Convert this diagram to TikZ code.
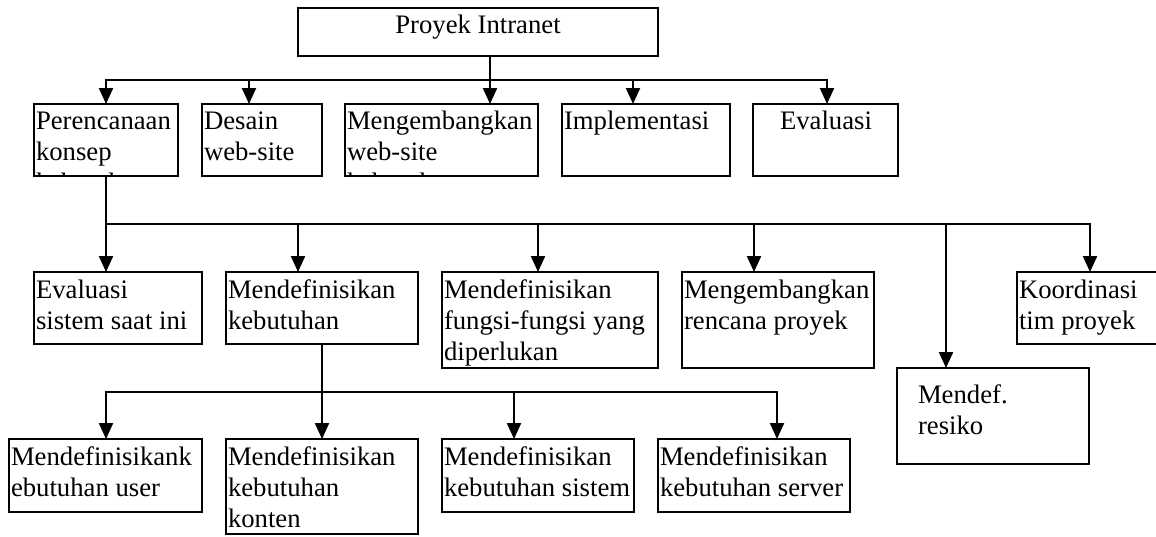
\documentclass[tikz,border=0pt]{standalone}
\usepackage{fontspec}
\setmainfont{Liberation Serif}
\usetikzlibrary{arrows.meta}
\newcommand\lns[1]{\begin{tabular}[t]{@{}l@{}}#1\end{tabular}}
\begin{document}
\begin{tikzpicture}[x=1pt,y=-1pt,
  box/.style={draw, line width=2.2pt, anchor=north west, inner sep=0pt, outer sep=0pt},
  txt/.style={inner sep=0pt, outer sep=0pt, anchor=base west, font=\fontsize{26.7}{31}\selectfont},
  ctxt/.style={txt, anchor=base},
  conn/.style={line width=2.2pt, line cap=rect},
  arr/.style={line width=2.2pt, -{Triangle[length=16pt,width=14pt]}}]
\useasboundingbox (0,0) rectangle (1156,536);
% boxes
\node[box, minimum width=360pt, minimum height=48pt] (root) at (298,8) {};
\node[box, minimum width=144pt, minimum height=72pt] (r1a) at (34,104) {};
\node[box, minimum width=120pt, minimum height=72pt] (r1b) at (202,104) {};
\node[box, minimum width=193pt, minimum height=72pt] (r1c) at (345,104) {};
\node[box, minimum width=168pt, minimum height=72pt] (r1d) at (562,104) {};
\node[box, minimum width=145pt, minimum height=72pt] (r1e) at (753,104) {};
\node[box, minimum width=168pt, minimum height=72pt] (r2a) at (34,272) {};
\node[box, minimum width=192pt, minimum height=72pt] (r2b) at (226,272) {};
\node[box, minimum width=216pt, minimum height=96pt] (r2c) at (442,272) {};
\node[box, minimum width=192pt, minimum height=96pt] (r2d) at (682,272) {};
\node[box, minimum width=192pt, minimum height=96pt] (r2e) at (897,368) {};
\node[box, minimum width=150pt, minimum height=72pt] (r2f) at (1017,272) {};
\node[box, minimum width=193pt, minimum height=73pt] (r3a) at (9,439) {};
\node[box, minimum width=192pt, minimum height=95pt] (r3b) at (226,439) {};
\node[box, minimum width=192pt, minimum height=73pt] (r3c) at (442,439) {};
\node[box, minimum width=192pt, minimum height=73pt] (r3d) at (658,439) {};
% texts
\node[ctxt] (troot) at (478,33) {Proyek Intranet};
\begin{scope}
\clip (r1a.north west) rectangle (r1a.south east);
\node[txt] (tr1a) at (36,129) {\lns{Perencanaan\\konsep\\kebutuhan}};
\end{scope}
\node[txt] (tr1b) at (204,129) {\lns{Desain\\web-site}};
\begin{scope}
\clip (r1c.north west) rectangle (r1c.south east);
\node[txt] (tr1c) at (347,129) {\lns{Mengembangkan\\web-site\\kebutuhan}};
\end{scope}
\node[txt] (tr1d) at (564,129) {Implementasi};
\node[ctxt] (tr1e) at (826,129) {Evaluasi};
\node[txt] (tr2a) at (36,298) {\lns{Evaluasi\\sistem saat ini}};
\node[txt] (tr2b) at (228,298) {\lns{Mendefinisikan\\kebutuhan}};
\node[txt] (tr2c) at (444,298) {\lns{Mendefinisikan\\fungsi-fungsi yang\\diperlukan}};
\node[txt] (tr2d) at (684,298) {\lns{Mengembangkan\\rencana proyek}};
\node[txt] (tr2e) at (918,403) {\lns{Mendef.\\resiko}};
\node[txt] (tr2f) at (1019,298) {\lns{Koordinasi\\tim proyek}};
\node[txt] (tr3a) at (11,465) {\lns{Mendefinisikank\\ebutuhan user}};
\node[txt] (tr3b) at (228,465) {\lns{Mendefinisikan\\kebutuhan\\konten}};
\node[txt] (tr3c) at (444,465) {\lns{Mendefinisikan\\kebutuhan sistem}};
\node[txt] (tr3d) at (660,465) {\lns{Mendefinisikan\\kebutuhan server}};
% row 1 connectors
\coordinate (j1a) at (106,80);
\coordinate (j1b) at (249,80);
\coordinate (j1c) at (490,80);
\coordinate (j1d) at (633,80);
\coordinate (j1e) at (827,80);
\draw[conn] (j1a) -- (j1e);
\draw[arr] (j1c |- root.south) -- (j1c |- r1c.north);
\draw[arr] (j1a) -- (j1a |- r1a.north);
\draw[arr] (j1b) -- (j1b |- r1b.north);
\draw[arr] (j1d) -- (j1d |- r1d.north);
\draw[arr] (j1e) -- (j1e |- r1e.north);
% row 2 connectors
\coordinate (j2a) at (106,224);
\coordinate (j2b) at (298,224);
\coordinate (j2c) at (538,224);
\coordinate (j2d) at (754,224);
\coordinate (j2e) at (946,224);
\coordinate (j2f) at (1090,224);
\draw[conn] (j2a) -- (j2f);
\draw[arr] (j2a |- r1a.south) -- (j2a |- r2a.north);
\draw[arr] (j2b) -- (j2b |- r2b.north);
\draw[arr] (j2c) -- (j2c |- r2c.north);
\draw[arr] (j2d) -- (j2d |- r2d.north);
\draw[arr] (j2e) -- (j2e |- r2e.north);
\draw[arr] (j2f) -- (j2f |- r2f.north);
% row 3 connectors
\coordinate (j3a) at (106,392);
\coordinate (j3b) at (322,392);
\coordinate (j3c) at (514,392);
\coordinate (j3d) at (777,392);
\draw[conn] (j3a) -- (j3d);
\draw[arr] (j3b |- r2b.south) -- (j3b |- r3b.north);
\draw[arr] (j3a) -- (j3a |- r3a.north);
\draw[arr] (j3c) -- (j3c |- r3c.north);
\draw[arr] (j3d) -- (j3d |- r3d.north);
\end{tikzpicture}
\end{document}
